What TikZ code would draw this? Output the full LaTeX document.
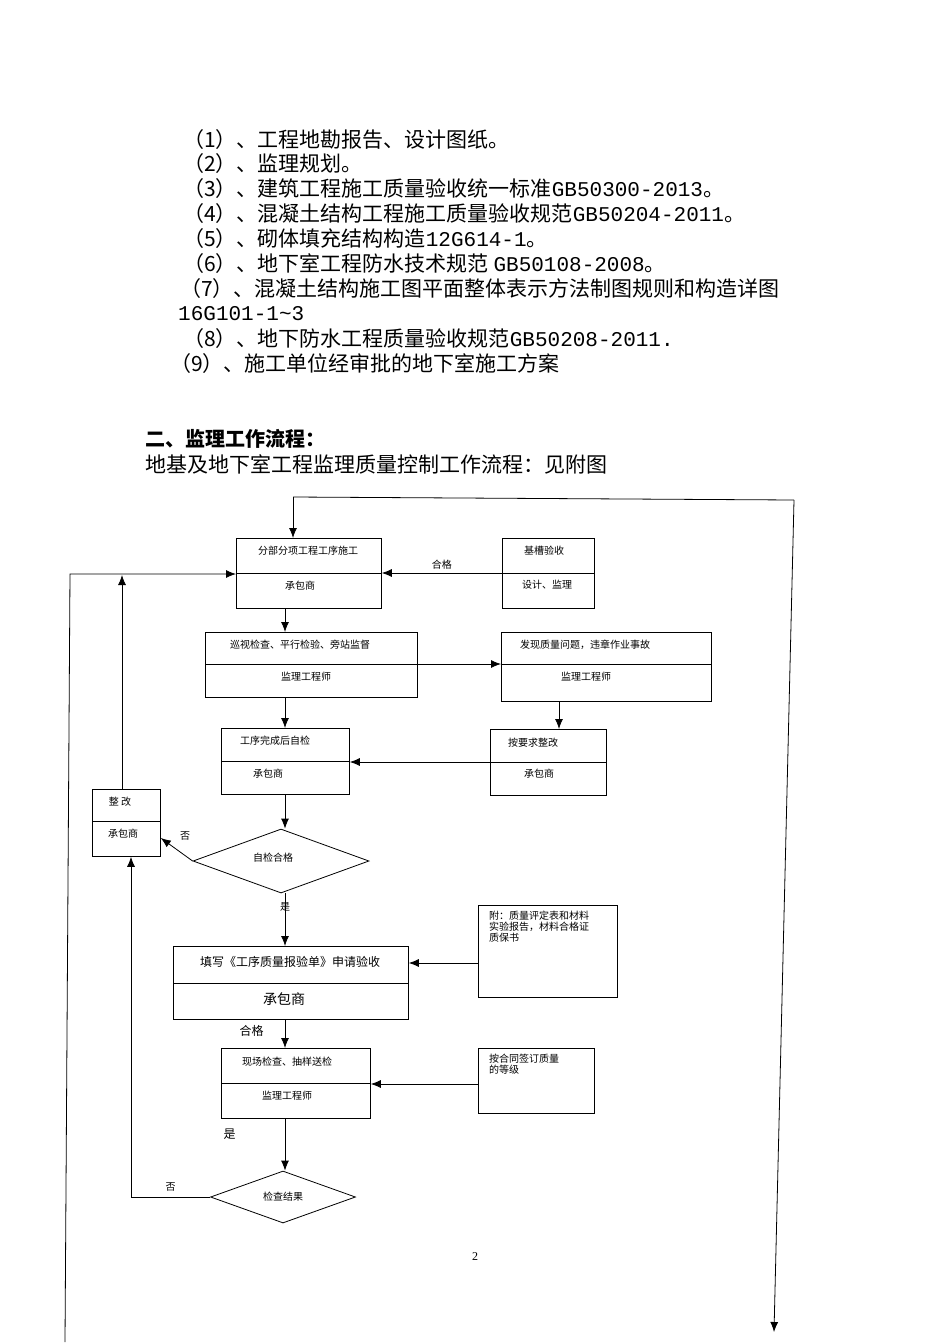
\documentclass[tikz,border=0pt]{standalone}
\usepackage{fontspec}
\setmainfont{Liberation Serif}
\newfontfamily\cjk{Noto Sans CJK SC}
\newfontfamily\lat{Liberation Mono}
\usetikzlibrary{arrows.meta,positioning,shapes.geometric}
\begin{document}
\begin{tikzpicture}[x=1pt,y=-1pt,
		box/.style={draw, thick, rectangle, anchor=north west, inner sep=0pt},
		dec/.style={draw, thick, diamond, aspect=2.75, inner sep=0pt},
		lbl/.style={font=\cjk\fontsize{10}{12}\selectfont, inner sep=1pt},
		note/.style={font=\cjk\fontsize{10}{11}\selectfont, anchor=north west, align=left, inner sep=0pt},
		item/.style={font=\cjk\fontsize{21}{22}\selectfont, anchor=west, inner sep=0pt},
		line/.style={draw, thick, -{Latex[length=10pt,width=8pt]}}
	]
	\useasboundingbox (0,0) rectangle (950,1344);
	% Text above the chart
	\node[item] (r1) at (183,140) {（1）、工程地勘报告、设计图纸。};
	\node[item] (r2) at (183,164) {（2）、监理规划。};
	\node[item] (r3) at (183,189) {（3）、建筑工程施工质量验收统一标准{\lat GB50300-2013}。};
	\node[item] (r4) at (183,214) {（4）、混凝土结构工程施工质量验收规范{\lat GB50204-2011}。};
	\node[item] (r5) at (183,239) {（5）、砌体填充结构构造{\lat 12G614-1}。};
	\node[item] (r6) at (183,264) {（6）、地下室工程防水技术规范 {\lat GB50108-2008}。};
	\node[item] (r7) at (180,289) {（7）、混凝土结构施工图平面整体表示方法制图规则和构造详图};
	\node[item] (r7b) at (178,314) {\lat 16G101-1\char`~3};
	\node[item] (r8) at (183,339) {（8）、地下防水工程质量验收规范{\lat GB50208-2011.}};
	\node[item] (r9) at (170,364) {（9）、施工单位经审批的地下室施工方案};
	\node[item, font=\cjk\bfseries\fontsize{20}{21}\selectfont] (h2) at (145,439) {二、监理工作流程：};
	\node[item] (h2t) at (145,464) {地基及地下室工程监理质量控制工作流程：见附图};

	% Boxes
	\node[box, minimum width=145, minimum height=70] (A) at (236,538) {};
	\draw[thick] (236,573) -- (381,573);
	\node[lbl] (At) at (308,551) {分部分项工程工序施工};
	\node[lbl] (Ab) at (300,586) {承包商};

	\node[box, minimum width=92, minimum height=70] (B) at (502,538) {};
	\draw[thick] (502,573) -- (594,573);
	\node[lbl] (Bt) at (544,551) {基槽验收};
	\node[lbl] (Bb) at (547,585) {设计、监理};

	\node[box, minimum width=212, minimum height=65] (C) at (205,632) {};
	\draw[thick] (205,664) -- (417,664);
	\node[lbl] (Ct) at (300,645) {巡视检查、平行检验、旁站监督};
	\node[lbl] (Cb) at (306,677) {监理工程师};

	\node[box, minimum width=210, minimum height=69] (D) at (501,632) {};
	\draw[thick] (501,664) -- (711,664);
	\node[lbl] (Dt) at (585,645) {发现质量问题，违章作业事故};
	\node[lbl] (Db) at (586,677) {监理工程师};

	\node[box, minimum width=128, minimum height=66] (E) at (221,728) {};
	\draw[thick] (221,761) -- (349,761);
	\node[lbl] (Et) at (275,741) {工序完成后自检};
	\node[lbl] (Eb) at (268,774) {承包商};

	\node[box, minimum width=116, minimum height=66] (F) at (490,729) {};
	\draw[thick] (490,762) -- (606,762);
	\node[lbl] (Ft) at (533,743) {按要求整改};
	\node[lbl] (Fb) at (539,774) {承包商};

	\node[box, minimum width=68, minimum height=67] (G) at (92,789) {};
	\draw[thick] (92,821) -- (160,821);
	\node[lbl] (Gt) at (120,802) {整 改};
	\node[lbl] (Gb) at (123,834) {承包商};

	\node[dec, minimum width=176, minimum height=64] (H) at (281,861) {};
	\node[lbl] (Ht) at (273,858) {自检合格};

	\node[box, minimum width=235, minimum height=73] (I) at (173,946) {};
	\draw[thick] (173,983) -- (408,983);
	\node[lbl, font=\cjk\fontsize{12}{14}\selectfont] (It) at (290,962) {填写《工序质量报验单》申请验收};
	\node[lbl, font=\cjk\fontsize{14}{16}\selectfont] (Ib) at (284,999) {承包商};

	\node[box, minimum width=139, minimum height=92] (J) at (478,905) {};
	\node[note] (Jt) at (489,911) {附：质量评定表和材料\\实验报告，材料合格证\\质保书};

	\node[box, minimum width=149, minimum height=70] (K) at (221,1048) {};
	\draw[thick] (221,1083) -- (370,1083);
	\node[lbl] (Kt) at (287,1062) {现场检查、抽样送检};
	\node[lbl] (Kb) at (287,1096) {监理工程师};

	\node[box, minimum width=116, minimum height=65] (L) at (478,1048) {};
	\node[note] (Lt) at (489,1054) {按合同签订质量\\的等级};

	\node[dec, minimum width=145, minimum height=52] (M) at (283,1197) {};
	\node[lbl] (Mt) at (283,1197) {检查结果};

	\node[lbl, font=\fontsize{12}{14}\selectfont] (pg) at (475,1257) {2};

	% Loop lines
	\coordinate (tl) at (293,497);
	\coordinate (tr) at (794,500);
	\coordinate (rb) at (774,1332);
	\coordinate (lb) at (65,1342);
	\coordinate (lt) at (70,574);
	\draw[thick] (tr) -- (tl);
	\draw[line] (tl) -- (A.north -| tl);
	\draw[line] (tr) -- (rb);
	\draw[line] (lb) -- (lt) -- (A.west |- lt);
	\draw[line] (G.north -| 122,0) -- (122,575);

	% Flow arrows
	\draw[line] (B.west |- 0,573) -- node[lbl, above=2pt] {合格} (A.east |- 0,573);
	\draw[line] (A.south -| 285,0) -- (C.north -| 285,0);
	\draw[line] (C.east |- 0,664) -- (D.west |- 0,664);
	\draw[line] (C.south -| 285,0) -- (E.north -| 285,0);
	\draw[line] (D.south -| 559,0) -- (F.north -| 559,0);
	\draw[line] (F.west |- 0,762) -- (E.east |- 0,762);
	\draw[line] (E.south -| 285,0) -- (H.north -| 285,0);
	\draw[line] (H.west) -- (G.east |- 0,838);
	\node[lbl] (no1) at (185,836) {否};
	\draw[line] (H.south -| 285,0) -- node[lbl, pos=0.25] {是} (I.north -| 285,0);
	\draw[line] (J.west |- 0,963) -- (I.east |- 0,963);
	\draw[line] (I.south -| 285,0) -- node[lbl, pos=0.4, left=20pt, font=\cjk\fontsize{12}{14}\selectfont] {合格} (K.north -| 285,0);
	\draw[line] (L.west |- 0,1084) -- (K.east |- 0,1084);
	\draw[line] (K.south -| 285,0) -- node[lbl, pos=0.3, left=48pt, font=\cjk\fontsize{12}{14}\selectfont] {是} (M.north -| 285,0);
	\draw[line] (M.west) -- node[lbl, above=4pt] {否} (131,1197) -- (G.south -| 131,0);
\end{tikzpicture}
\end{document}
